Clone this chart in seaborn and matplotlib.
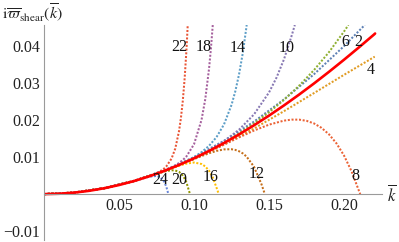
import numpy as np
import matplotlib
matplotlib.use("Agg")
import matplotlib.pyplot as plt
import seaborn as sns
from matplotlib.ticker import MultipleLocator, FixedLocator

# ---------------- data ----------------
exact_k = [0, 0.01, 0.02, 0.03, 0.04, 0.05, 0.06, 0.07, 0.08, 0.09, 0.10, 0.11, 0.12,
           0.13, 0.14, 0.15, 0.16, 0.17, 0.18, 0.19, 0.20, 0.21, 0.22, 0.2207]
exact_y = [0, 0.0000988, 0.000395, 0.000888, 0.001576, 0.002457, 0.003531, 0.004793,
           0.006241, 0.007872, 0.00968, 0.011662, 0.013812, 0.016126, 0.018597, 0.021217,
           0.023982, 0.026883, 0.029911, 0.033061, 0.03632, 0.039681, 0.043134, 0.0434]

o2_k = [0, 0.02, 0.04, 0.06, 0.08, 0.10, 0.12, 0.14, 0.16, 0.18, 0.20, 0.2138]
o2_y = [0, 0.0004, 0.0016, 0.0036, 0.0064, 0.01, 0.0144, 0.0196, 0.0256, 0.0324, 0.04, 0.0457]

o4_k = [0, 0.02, 0.04, 0.06, 0.08, 0.10, 0.12, 0.14, 0.16, 0.18, 0.20, 0.22, 0.2205]
o4_y = [0, 0.000399, 0.001588, 0.003537, 0.006201, 0.009515, 0.013394, 0.017736, 0.022421,
        0.027308, 0.032238, 0.037036, 0.0371]

o6_k = [0, 0.02, 0.04, 0.06, 0.08, 0.10, 0.11, 0.12, 0.13, 0.14, 0.15, 0.16, 0.17, 0.18,
        0.19, 0.20, 0.2029]
o6_y = [0, 0.000399, 0.001588, 0.003546, 0.006249, 0.009698, 0.011714, 0.013941, 0.016398,
        0.019114, 0.022129, 0.025491, 0.029265, 0.033531, 0.038387, 0.04395, 0.0457]

o8_k = [0, 0.02, 0.04, 0.06, 0.08, 0.09, 0.10, 0.11, 0.12, 0.13, 0.14, 0.15, 0.16, 0.165,
        0.17, 0.175, 0.18, 0.185, 0.19, 0.195, 0.20, 0.205, 0.21, 0.2108]
o8_y = [0, 0.000399, 0.001588, 0.003544, 0.006227, 0.007823, 0.009567, 0.011433, 0.013377,
        0.015329, 0.017181, 0.018771, 0.019864, 0.020125, 0.020126, 0.019807, 0.019094,
        0.017903, 0.016137, 0.013683, 0.010411, 0.006175, 0.000808, 0.0]

o10_k = [0, 0.02, 0.04, 0.06, 0.08, 0.09, 0.10, 0.11, 0.12, 0.13, 0.14, 0.15, 0.155, 0.16,
         0.165, 0.1672]
o10_y = [0, 0.000399, 0.001588, 0.003544, 0.006244, 0.007895, 0.009718, 0.011825, 0.014313,
         0.017412, 0.02155, 0.027482, 0.031489, 0.036473, 0.042718, 0.0457]

o12_k = [0, 0.02, 0.04, 0.06, 0.08, 0.085, 0.09, 0.095, 0.10, 0.105, 0.11, 0.115, 0.12,
         0.125, 0.1275, 0.13, 0.1325, 0.135, 0.14, 0.145, 0.1472]
o12_y = [0, 0.000399, 0.001588, 0.003544, 0.006226, 0.007009, 0.007825, 0.008633, 0.009468,
         0.010284, 0.01104, 0.011673, 0.012084, 0.012127, 0.011947, 0.011587, 0.011006,
         0.010152, 0.007377, 0.002632, 0.0]

o14_k = [0, 0.02, 0.04, 0.06, 0.08, 0.085, 0.09, 0.095, 0.10, 0.105, 0.11, 0.115, 0.12,
         0.125, 0.1275, 0.13, 0.1325, 0.135, 0.1351]
o14_y = [0, 0.000399, 0.001588, 0.003544, 0.00625, 0.007063, 0.007945, 0.00889, 0.009995,
         0.011328, 0.013042, 0.015402, 0.01885, 0.024111, 0.027759, 0.032339, 0.038101,
         0.045351, 0.0457]

o16_k = [0, 0.02, 0.04, 0.06, 0.08, 0.085, 0.0875, 0.09, 0.0925, 0.095, 0.10, 0.105,
         0.1075, 0.11, 0.1125, 0.115, 0.1165]
o16_y = [0, 0.000399, 0.001588, 0.003544, 0.006208, 0.006955, 0.007307, 0.007675, 0.007974,
         0.008247, 0.008535, 0.00814, 0.007479, 0.006332, 0.004507, 0.001739, 0.0]

o18_k = [0, 0.02, 0.04, 0.06, 0.08, 0.085, 0.0875, 0.09, 0.0925, 0.095, 0.10, 0.105,
         0.1075, 0.11, 0.11125, 0.1125]
o18_y = [0, 0.000399, 0.001588, 0.003544, 0.006298, 0.00722, 0.007755, 0.008417, 0.009191,
         0.010213, 0.013484, 0.02005, 0.02567, 0.033847, 0.0393, 0.0457]

o20_k = [0, 0.02, 0.04, 0.06, 0.0775, 0.08, 0.0815, 0.085, 0.0875, 0.09, 0.09125, 0.0925,
         0.09375, 0.095, 0.0973]
o20_y = [0, 0.000399, 0.001588, 0.003544, 0.005773, 0.006069, 0.006222, 0.006452, 0.006383,
         0.006008, 0.005596, 0.005023, 0.004215, 0.003108, 0.0]

o22_k = [0, 0.02, 0.04, 0.06, 0.07, 0.075, 0.0775, 0.08, 0.0815, 0.085, 0.0875, 0.09,
         0.09125, 0.0925, 0.09375, 0.095, 0.0958]
o22_y = [0, 0.000399, 0.001588, 0.003544, 0.004833, 0.005651, 0.006184, 0.006894, 0.007464,
         0.009583, 0.012307, 0.017019, 0.02051, 0.025141, 0.031245, 0.039283, 0.0457]

o24_k = [0, 0.02, 0.04, 0.06, 0.065, 0.07, 0.075, 0.0775, 0.08, 0.0815, 0.0829]
o24_y = [0, 0.000399, 0.001588, 0.003537, 0.00412, 0.004693, 0.004915, 0.004566, 0.003429,
         0.002052, 0.0]

orders = ["2", "4", "6", "8", "10", "12", "14", "16", "18", "20", "22", "24"]
series_k = [o2_k, o4_k, o6_k, o8_k, o10_k, o12_k, o14_k, o16_k, o18_k, o20_k, o22_k, o24_k]
series_y = [o2_y, o4_y, o6_y, o8_y, o10_y, o12_y, o14_y, o16_y, o18_y, o20_y, o22_y, o24_y]
colors = ["#5E81B5", "#E19C24", "#8FB032", "#EB6235", "#8778B3", "#C56E1A",
          "#5D9EC7", "#FFBF00", "#A5609D", "#929600", "#E95536", "#6685D9"]

# label anchor positions (data coords)
label_k = [0.2097, 0.2180, 0.2007, 0.2073, 0.1617, 0.1420, 0.1293, 0.1113, 0.1067, 0.0903, 0.0900, 0.0773]
label_y = [0.0411, 0.0336, 0.0411, 0.0049, 0.0395, 0.0055, 0.0395, 0.0047, 0.0397, 0.0039, 0.0397, 0.0039]

xticks = [0.05, 0.10, 0.15, 0.20]
xtick_labels = ["0.05", "0.10", "0.15", "0.20"]
yticks = [-0.01, 0.01, 0.02, 0.03, 0.04]
ytick_labels = ["\u22120.01", "0.01", "0.02", "0.03", "0.04"]

# ---------------- figure ----------------
sns.set_style("white")
plt.rcParams["font.family"] = ["Liberation Serif", "DejaVu Serif"]
plt.rcParams["mathtext.fontset"] = "stix"

W, H = 399, 242
fig = plt.figure(figsize=(W / 100, H / 100), dpi=100)
ax = fig.add_axes([44 / W, 1 - 240 / H, 338 / W, 215 / H])
ax.set_xlim(0, 0.2253)
ax.set_ylim(-0.0124, 0.0457)

for kk, yy, c in zip(series_k, series_y, colors):
    sns.lineplot(x=kk, y=yy, ax=ax, color=c, lw=1.45, linestyle=(0, (1.0, 0.85)),
                 estimator=None, sort=False, legend=False, dash_capstyle="butt")

sns.lineplot(x=exact_k, y=exact_y, ax=ax, color="#FF0000", lw=1.9,
             estimator=None, sort=False, legend=False)

for lab, lk, ly in zip(orders, label_k, label_y):
    ax.text(lk, ly, lab, ha="center", va="center", fontsize=11.5, color="#111111")

axis_col = "#9a9a9a"
for s in ["top", "right"]:
    ax.spines[s].set_visible(False)
ax.spines["left"].set_position(("data", 0))
ax.spines["bottom"].set_position(("data", 0))
ax.spines["left"].set_color(axis_col)
ax.spines["bottom"].set_color(axis_col)
ax.spines["left"].set_linewidth(0.8)
ax.spines["bottom"].set_linewidth(0.8)

ax.xaxis.set_major_locator(FixedLocator(xticks))
ax.xaxis.set_minor_locator(MultipleLocator(0.01))
ax.yaxis.set_major_locator(FixedLocator(yticks))
ax.yaxis.set_minor_locator(MultipleLocator(0.002))
ax.set_xticklabels(xtick_labels)
ax.set_yticklabels(ytick_labels)
ax.tick_params(which="both", direction="in", color=axis_col, width=0.7,
               labelsize=11.5, labelcolor="#222222")
ax.tick_params(which="major", length=3.5, pad=3)
ax.tick_params(which="minor", length=1.8)
ax.set_xlabel("")
ax.set_ylabel("")
ax.grid(False)

fig.text(2 / W, 1 - 13 / H, r"$\mathrm{i}\overline{\varpi}_{\mathrm{shear}}(\overline{k})$",
         ha="left", va="center", fontsize=11.5, color="#222222")
fig.text(392 / W, 1 - 195 / H, r"$\overline{k}$", ha="center", va="center",
         fontsize=12, color="#222222")

fig.savefig("out.png", dpi=100)
